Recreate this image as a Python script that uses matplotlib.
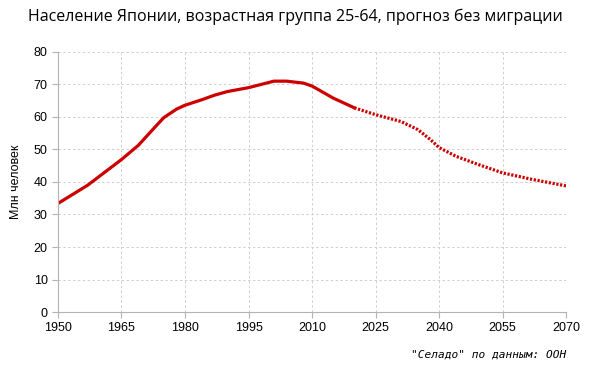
import matplotlib.pyplot as plt

# годы и население 25-64, млн
years_hist = [1950, 1957, 1965, 1969, 1973, 1975, 1978, 1980, 1984, 1987,
              1990, 1995, 2001, 2004, 2008, 2010, 2015, 2020]
pop_hist = [33.4, 39.0, 46.9, 51.3, 57.0, 59.8, 62.4, 63.6, 65.3, 66.7,
            67.8, 69.0, 71.0, 71.0, 70.4, 69.5, 65.8, 62.8]
years_proj = [2020, 2025, 2031, 2035, 2038, 2040, 2044, 2049, 2055, 2062, 2070]
pop_proj = [62.8, 60.7, 58.6, 56.1, 53.0, 50.6, 47.9, 45.5, 42.8, 40.8, 38.8]

x_ticks = list(range(1950, 2071, 15))
y_ticks = list(range(0, 81, 10))

fig = plt.figure(figsize=(5.96, 3.68), dpi=100)
ax = fig.add_axes((0.0973, 0.152, 0.8524, 0.707))

red = '#cc0000'
ax.plot(years_hist, pop_hist, color=red, lw=2.3, solid_joinstyle='round')
ax.plot(years_proj, pop_proj, color=red, lw=2.3, linestyle=(0, (0.7, 0.5)),
        dash_capstyle='butt')

ax.set_xlim(1950, 2070)
ax.set_ylim(0, 80)
ax.set_xticks(x_ticks)
ax.set_yticks(y_ticks)
ax.grid(True, color='#cfcfcf', linestyle=(0, (2.5, 2.5)), lw=0.7)
for s in ['top', 'right']:
    ax.spines[s].set_visible(False)
for s in ['left', 'bottom']:
    ax.spines[s].set_color('#b3b3b3')
ax.tick_params(colors='#b3b3b3', labelcolor='black', labelsize=9, length=4)
for lbl in ax.get_xticklabels() + ax.get_yticklabels():
    lbl.set_family('Liberation Sans')

ax.set_ylabel('Млн человек', fontsize=9, family='Liberation Sans', labelpad=8)
fig.text(0.495, 0.955, 'Население Японии, возрастная группа 25-64, прогноз без миграции',
         ha='center', va='center', fontsize=11.5, family='Open Sans')
fig.text(0.95, 0.035, '"Селадо" по данным: ООН', ha='right', va='center',
         fontsize=8, family='DejaVu Sans Mono', style='italic')

fig.savefig('out.png', dpi=100)
